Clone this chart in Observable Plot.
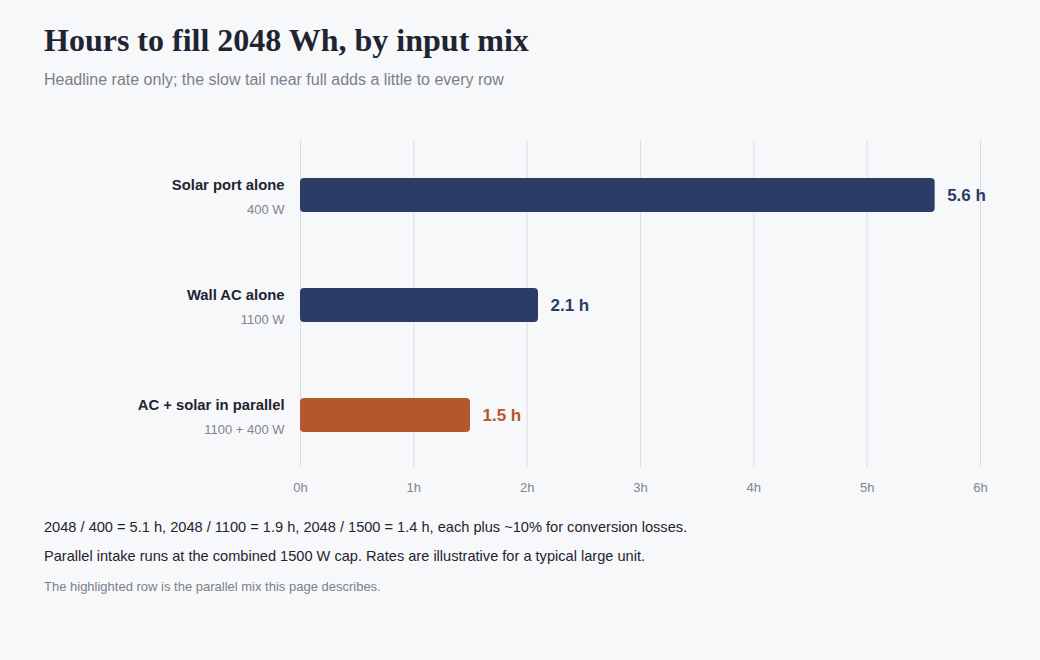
<!DOCTYPE html>
<html>
<head>
<meta charset="utf-8">
<script src="https://cdn.jsdelivr.net/npm/d3@7"></script>
<script src="https://cdn.jsdelivr.net/npm/@observablehq/plot@0.6"></script>
<style>
  html, body { margin: 0; padding: 0; background: #f7f8fa; }
  body { width: 1040px; height: 660px; position: relative; font-family: "Liberation Sans", Arial, sans-serif; overflow: hidden; }
  #title { position: absolute; left: 44px; top: 22px; font-family: "Palatino Linotype", "Book Antiqua", Palatino, "URW Palladio L", "P052", "Liberation Serif", serif; font-weight: bold; font-size: 32px; color: #1f2430; margin: 0; white-space: nowrap; }
  #subtitle { position: absolute; left: 44px; top: 71px; font-size: 16px; color: #7a808b; white-space: nowrap; }
  #chart { position: absolute; left: 0; top: 100px; }
  .note { position: absolute; left: 44px; font-size: 14.6px; color: #1f2430; white-space: nowrap; }
  #n1 { top: 519px; }
  #n2 { top: 548px; }
  #n3 { top: 579px; font-size: 13px; color: #7a808b; }
</style>
</head>
<body>
<div id="title">Hours to fill 2048 Wh, by input mix</div>
<div id="subtitle">Headline rate only; the slow tail near full adds a little to every row</div>
<div id="chart"></div>
<div class="note" id="n1">2048 / 400 = 5.1 h, 2048 / 1100 = 1.9 h, 2048 / 1500 = 1.4 h, each plus ~10% for conversion losses.</div>
<div class="note" id="n2">Parallel intake runs at the combined 1500 W cap. Rates are illustrative for a typical large unit.</div>
<div class="note" id="n3">The highlighted row is the parallel mix this page describes.</div>
<script>
const mixes = ["Solar port alone", "Wall AC alone", "AC + solar in parallel"];
const watts = ["400 W", "1100 W", "1100 + 400 W"];
const hours = [5.6, 2.1, 1.5];
const highlighted = [false, false, true];
const hourTicks = [0, 1, 2, 3, 4, 5, 6];

const rows = mixes.map((m, i) => ({mix: m, watts: watts[i], hours: hours[i], hl: highlighted[i]}));
const navy = "#2b3d66", orange = "#b5562c";

const chart = Plot.plot({
  width: 1040,
  height: 410,
  marginTop: 40,
  marginBottom: 40,
  marginLeft: 300,
  marginRight: 60,
  style: { background: "transparent", fontFamily: "'Liberation Sans', Arial, sans-serif" },
  x: { domain: [0, 6], ticks: hourTicks, tickFormat: d => d + "h", label: null },
  y: { domain: mixes, paddingInner: 0.69, paddingOuter: 0.345, axis: null },
  marks: [
    Plot.ruleX(hourTicks, { stroke: "#d9dce2", strokeWidth: 1, insetBottom: 3 }),
    Plot.axisX({ ticks: hourTicks, tickFormat: d => d + "h", tickSize: 0, tickPadding: 12, fontSize: 13, color: "#80858f", label: null }),
    Plot.barX(rows, { x: "hours", y: "mix", fill: d => d.hl ? orange : navy, rx: 4 }),
    Plot.text(rows, { x: "hours", y: "mix", text: d => d.hours.toFixed(1) + " h", fill: d => d.hl ? orange : navy, textAnchor: "start", dx: 12, fontSize: 17, fontWeight: "bold" }),
    Plot.text(rows, { y: "mix", frameAnchor: "left", text: "mix", textAnchor: "end", dx: -16, dy: -10, fontSize: 14.8, fontWeight: "bold", fill: "#1f2430" }),
    Plot.text(rows, { y: "mix", frameAnchor: "left", text: "watts", textAnchor: "end", dx: -16, dy: 14, fontSize: 13, fill: "#80858f" })
  ]
});
document.getElementById("chart").appendChild(chart);
</script>
</body>
</html>
